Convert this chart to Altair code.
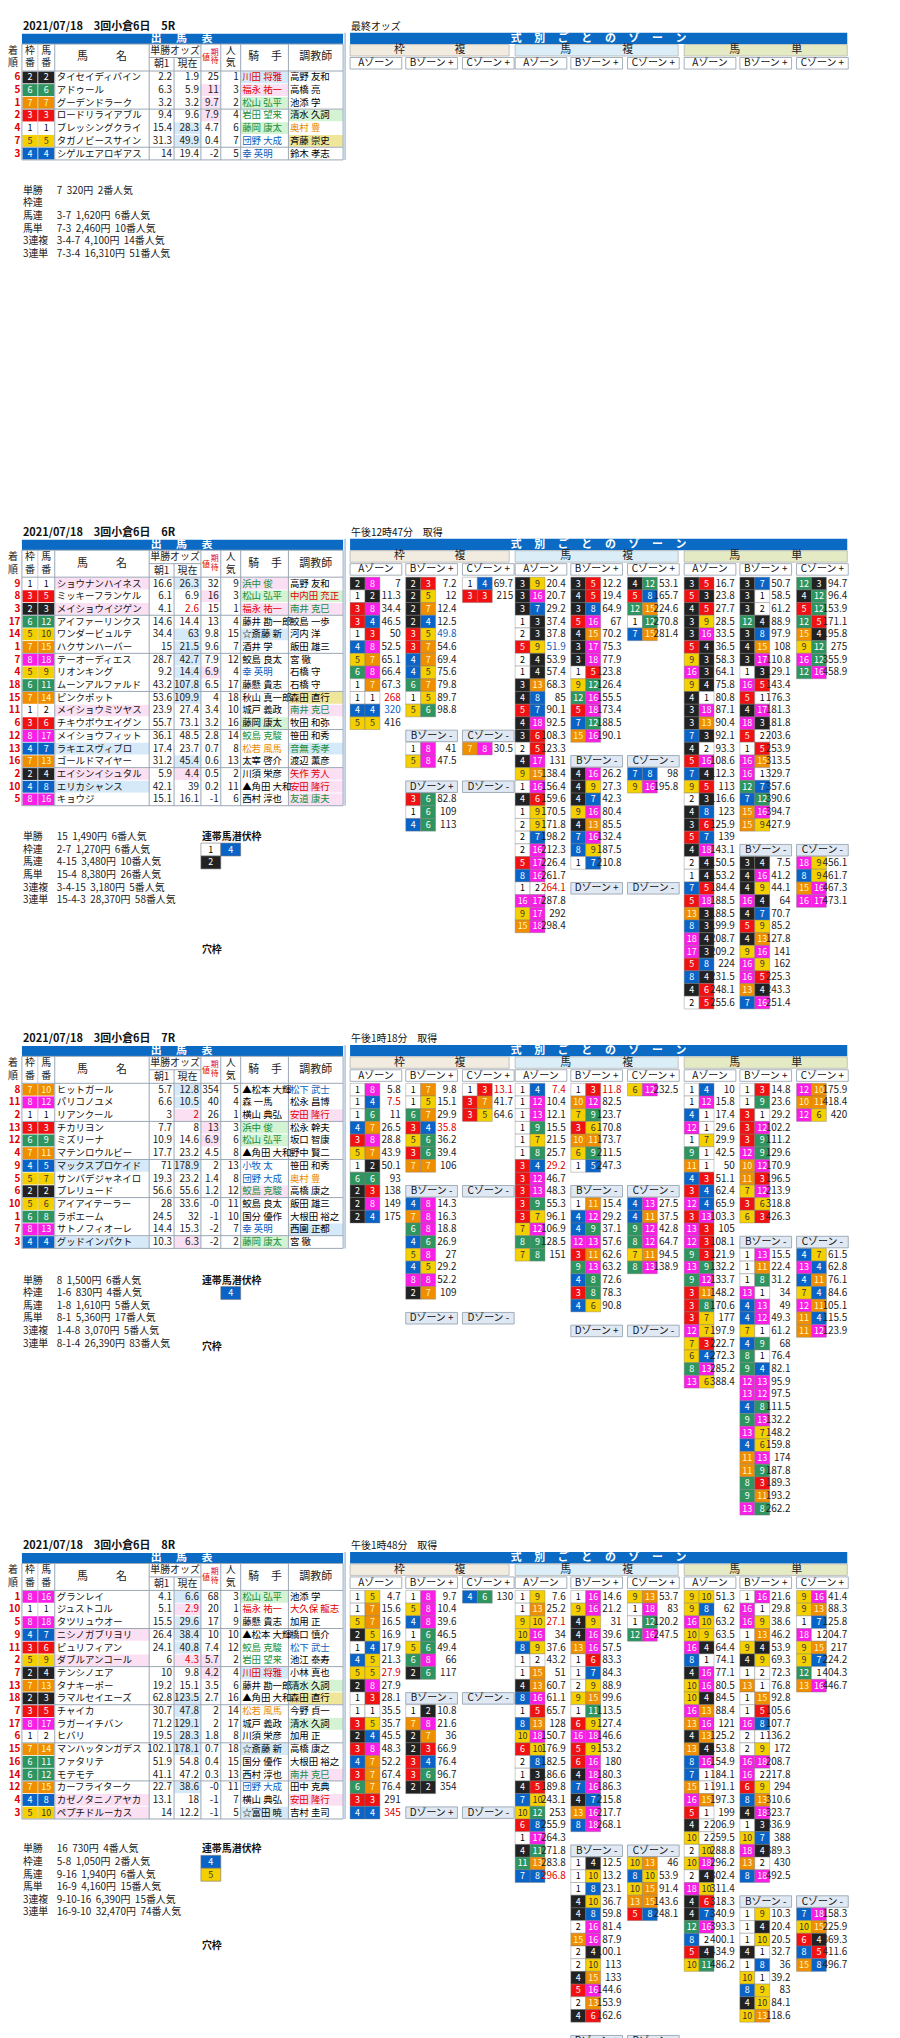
import altair as alt
import pandas as pd

FONT = "Noto Sans CJK JP"

# ---------------- data ----------------
DATE_TEXT = "2021/07/18"
MEETING = "3回小倉6日"
RACE_IDS = [5, 6, 7, 8]
ODDS_TIME = {5: "最終オッズ", 6: "午後12時47分　取得", 7: "午後1時18分　取得", 8: "午後1時48分　取得"}

# (着順, 枠番, 馬番, 馬名, 朝1, 現在, 期待値, 人気, 騎手, 調教師)
RUNNERS_5 = [
    (6, 2, 2, "タイセイディバイン", 2.2, 1.9, "25", 1, "川田 将雅", "高野 友和"),
    (5, 6, 6, "アドゥール", 6.3, 5.9, "11", 3, "福永 祐一", "高橋 亮"),
    (1, 7, 7, "グーデンドラーク", 3.2, 3.2, "9.7", 2, "松山 弘平", "池添 学"),
    (2, 3, 3, "ロードリライアブル", 9.4, 9.6, "7.9", 4, "岩田 望来", "清水 久詞"),
    (4, 1, 1, "ブレッシングクライ", 15.4, 28.3, "4.7", 6, "藤岡 康太", "奥村 豊"),
    (7, 5, 5, "タガノビースサイン", 31.3, 49.9, "0.4", 7, "団野 大成", "斉藤 崇史"),
    (3, 4, 4, "シゲルエアロギアス", 14, 19.4, "-2", 5, "幸 英明", "鈴木 孝志"),
]
RUNNERS_6 = [
    (9, 1, 1, "ショウナンハイネス", 16.6, 26.3, "32", 9, "浜中 俊", "高野 友和"),
    (8, 3, 5, "ミッキーフランケル", 6.1, 6.9, "16", 3, "松山 弘平", "中内田 充正"),
    (3, 2, 3, "メイショウイジゲン", 4.1, 2.6, "15", 1, "福永 祐一", "南井 克巳"),
    (17, 6, 12, "アイファーリンクス", 14.6, 14.4, "13", 4, "藤井 勘一郎", "鮫島 一歩"),
    (14, 5, 10, "ワンダービュルテ", 34.4, 63, "9.8", 15, "☆斎藤 新", "河内 洋"),
    (1, 7, 15, "ハクサンハーバー", 15, 21.5, "9.6", 7, "酒井 学", "飯田 雄三"),
    (7, 8, 18, "テーオーディエス", 28.7, 42.7, "7.9", 12, "鮫島 良太", "宮 徹"),
    (4, 5, 9, "リオンキング", 9.2, 14.4, "6.9", 4, "幸 英明", "石橋 守"),
    (18, 6, 11, "ムーンアルファルド", 43.2, 107.8, "6.5", 17, "藤懸 貴志", "石橋 守"),
    (15, 7, 14, "ピンクポット", 53.6, 109.9, "4", 18, "秋山 真一郎", "森田 直行"),
    (11, 1, 2, "メイショウミツヤス", 23.9, 27.4, "3.4", 10, "城戸 義政", "南井 克巳"),
    (6, 3, 6, "チキウボウエイグン", 55.7, 73.1, "3.2", 16, "藤岡 康太", "牧田 和弥"),
    (12, 8, 17, "メイショウフィット", 36.1, 48.5, "2.8", 14, "鮫島 克駿", "笹田 和秀"),
    (13, 4, 7, "ラキエスヴィブロ", 17.4, 23.7, "0.7", 8, "松若 風馬", "音無 秀孝"),
    (16, 7, 13, "ゴールドマイヤー", 31.2, 45.4, "0.6", 13, "太宰 啓介", "渡辺 薫彦"),
    (2, 2, 4, "エイシンイシュタル", 5.9, 4.4, "0.5", 2, "川須 栄彦", "矢作 芳人"),
    (10, 4, 8, "エリカシャンス", 42.1, 39, "0.2", 11, "▲角田 大和", "安田 隆行"),
    (5, 8, 16, "キョウジ", 15.1, 16.1, "-1", 6, "西村 淳也", "友道 康夫"),
]
RUNNERS_7 = [
    (8, 7, 10, "ヒットガール", 5.7, 12.8, "354", 5, "▲松本 大輝", "松下 武士"),
    (11, 8, 12, "パリコノユメ", 6.6, 10.5, "40", 4, "森 一馬", "松永 昌博"),
    (2, 1, 1, "リアンクール", 3, 2, "26", 1, "横山 典弘", "安田 隆行"),
    (13, 3, 3, "チカリヨン", 7.7, 8, "13", 3, "浜中 俊", "松永 幹夫"),
    (12, 6, 9, "ミズリーナ", 10.9, 14.6, "6.9", 6, "松山 弘平", "坂口 智康"),
    (4, 7, 11, "マテンロウルビー", 17.7, 23.2, "4.5", 8, "▲角田 大和", "野中 賢二"),
    (9, 4, 5, "マックスプロケイド", 71, 178.9, "2", 13, "小牧 太", "笹田 和秀"),
    (5, 5, 7, "サンバデジャネイロ", 19.3, 23.2, "1.4", 8, "団野 大成", "奥村 豊"),
    (6, 2, 2, "プレリュード", 56.6, 55.6, "1.2", 12, "鮫島 克駿", "高橋 康之"),
    (10, 5, 6, "アイアイテーラー", 28, 33.6, "-0", 11, "鮫島 良太", "飯田 雄三"),
    (1, 6, 8, "ラポエーム", 24.5, 32, "-1", 10, "国分 優作", "大根田 裕之"),
    (7, 8, 13, "サトノフィオーレ", 14.4, 15.3, "-2", 7, "幸 英明", "西園 正都"),
    (3, 4, 4, "グッドインパクト", 10.3, 6.3, "-2", 2, "藤岡 康太", "宮 徹"),
]
RUNNERS_8 = [
    (1, 8, 16, "グランレイ", 4.1, 6.6, "68", 3, "松山 弘平", "池添 学"),
    (10, 1, 1, "ジュストコル", 5.1, 2.9, "20", 1, "福永 祐一", "大久保 龍志"),
    (5, 8, 18, "タツリュウオー", 15.5, 29.6, "17", 9, "藤懸 貴志", "加用 正"),
    (9, 4, 7, "ニシノガブリヨリ", 26.4, 38.4, "10", 10, "▲松本 大輝", "橋口 慎介"),
    (11, 3, 6, "ピュリフィアン", 24.1, 40.8, "7.4", 12, "鮫島 克駿", "松下 武士"),
    (2, 5, 9, "ダブルアンコール", 6, 4.3, "5.7", 2, "岩田 望来", "池江 泰寿"),
    (7, 2, 4, "テンシノエア", 10, 9.8, "4.2", 4, "川田 将雅", "小林 真也"),
    (13, 7, 13, "タナキーポー", 19.2, 15.1, "3.5", 6, "藤井 勘一郎", "清水 久詞"),
    (18, 2, 3, "ラマルセイエーズ", 62.8, 123.5, "2.7", 16, "▲角田 大和", "森田 直行"),
    (7, 3, 5, "チャイカ", 30.7, 47.8, "2", 14, "松若 風馬", "今野 貞一"),
    (17, 8, 17, "ラガーイチバン", 71.2, 129.1, "2", 17, "城戸 義政", "清水 久詞"),
    (6, 1, 2, "ヒバリ", 19.5, 28.3, "1.8", 8, "川須 栄彦", "加用 正"),
    (15, 7, 14, "マンハッタンガデス", 102.1, 178.1, "0.7", 18, "☆斎藤 新", "高橋 康之"),
    (16, 6, 11, "ファタリテ", 51.9, 54.8, "0.4", 15, "国分 優作", "大根田 裕之"),
    (14, 6, 12, "モテモテ", 41.1, 47.2, "0.3", 13, "西村 淳也", "南井 克巳"),
    (12, 7, 15, "カーフライターク", 22.7, 38.6, "-0", 11, "団野 大成", "田中 克典"),
    (4, 4, 8, "カゼノタニノアヤカ", 13.1, 18, "-1", 7, "横山 典弘", "安田 隆行"),
    (3, 5, 10, "ペプチドルーカス", 14, 12.2, "-1", 5, "☆富田 暁", "吉村 圭司"),
]
RUNNERS = {5: RUNNERS_5, 6: RUNNERS_6, 7: RUNNERS_7, 8: RUNNERS_8}

PAYOUT = {
    5: [("単勝", "7  320円  2番人気"), ("枠連", ""), ("馬連", "3-7  1,620円  6番人気"),
        ("馬単", "7-3  2,460円  10番人気"), ("3連複", "3-4-7  4,100円  14番人気"),
        ("3連単", "7-3-4  16,310円  51番人気")],
    6: [("単勝", "15  1,490円  6番人気"), ("枠連", "2-7  1,270円  6番人気"), ("馬連", "4-15  3,480円  10番人気"),
        ("馬単", "15-4  8,380円  26番人気"), ("3連複", "3-4-15  3,180円  5番人気"),
        ("3連単", "15-4-3  28,370円  58番人気")],
    7: [("単勝", "8  1,500円  6番人気"), ("枠連", "1-6  830円  4番人気"), ("馬連", "1-8  1,610円  5番人気"),
        ("馬単", "8-1  5,360円  17番人気"), ("3連複", "1-4-8  3,070円  5番人気"),
        ("3連単", "8-1-4  26,390円  83番人気")],
    8: [("単勝", "16  730円  4番人気"), ("枠連", "5-8  1,050円  2番人気"), ("馬連", "9-16  1,940円  6番人気"),
        ("馬単", "16-9  4,160円  15番人気"), ("3連複", "9-10-16  6,390円  15番人気"),
        ("3連単", "16-9-10  32,470円  74番人気")],
}
LATENT = {6: [[1, 4], [2]], 7: [[None, 4]], 8: [[4], [5]]}

ZONE_6 = {
    "wf": {"A": [(2, 8, 7), (1, 2, 11.3), (3, 8, 34.4), (3, 4, 46.5), (1, 3, 50), (4, 8, 52.5), (5, 7, 65.1),
                 (6, 8, 66.4), (1, 7, 67.3), (1, 1, 268), (4, 4, 320), (5, 5, 416)],
           "B+": [(2, 3, 7.2), (2, 5, 12), (2, 7, 12.4), (2, 4, 12.5), (3, 5, 49.8), (3, 7, 54.6), (4, 7, 69.4),
                  (4, 5, 75.6), (6, 7, 79.8), (1, 5, 89.7), (5, 6, 98.8)],
           "C+": [(1, 4, 69.7), (3, 3, 215)],
           "B-": [(1, 8, 41), (5, 8, 47.5)],
           "C-": [(7, 8, 30.5)],
           "D+": [(3, 6, 82.8), (1, 6, 109), (4, 6, 113)], "D-": []},
    "uf": {"A": [(3, 9, 20.4), (3, 16, 20.7), (3, 7, 29.2), (1, 3, 37.4), (2, 3, 37.8), (5, 9, 51.9), (2, 4, 53.9),
                 (1, 4, 57.4), (3, 13, 68.3), (4, 8, 85), (5, 7, 90.1), (4, 18, 92.5), (3, 6, 108.3), (2, 5, 123.3),
                 (4, 17, 131), (9, 15, 138.4), (1, 16, 156.4), (4, 6, 159.6), (1, 9, 170.5), (2, 9, 171.8),
                 (2, 7, 198.2), (2, 16, 212.3), (5, 17, 226.4), (8, 16, 261.7), (1, 2, 264.1), (16, 17, 287.8),
                 (9, 17, 292), (15, 18, 298.4)],
           "B+": [(3, 5, 12.2), (4, 5, 19.4), (3, 8, 64.9), (5, 16, 67), (4, 15, 70.2), (3, 17, 75.3), (3, 18, 77.9),
                  (1, 5, 123.8), (9, 12, 126.4), (12, 16, 155.5), (5, 18, 173.4), (7, 12, 188.5), (15, 16, 190.1)],
           "C+": [(4, 12, 53.1), (5, 8, 165.7), (12, 15, 224.6), (1, 12, 270.8), (7, 15, 281.4)],
           "B-": [(4, 16, 26.2), (4, 9, 27.3), (4, 7, 42.3), (9, 16, 80.4), (4, 13, 85.5), (7, 16, 132.4),
                  (8, 9, 187.5), (1, 7, 210.8)],
           "C-": [(7, 8, 98), (9, 16, 195.8)], "D+": [], "D-": []},
    "ut": {"A": [(3, 5, 16.7), (5, 3, 23.8), (4, 5, 27.7), (3, 9, 28.5), (3, 16, 33.5), (5, 4, 36.5), (9, 3, 58.3),
                 (16, 3, 64.1), (9, 4, 75.8), (4, 1, 80.8), (3, 18, 87.1), (3, 13, 90.4), (7, 3, 92.1), (4, 2, 93.3),
                 (5, 16, 108.6), (7, 4, 112.3), (9, 5, 113), (2, 3, 116.6), (4, 8, 123), (3, 6, 125.9), (5, 7, 139),
                 (4, 18, 143.1), (2, 4, 150.5), (1, 4, 153.2), (7, 5, 184.4), (5, 18, 188.5), (13, 3, 188.5),
                 (8, 3, 199.9), (18, 4, 208.7), (17, 3, 209.2), (5, 8, 224), (8, 4, 231.5), (4, 6, 248.1),
                 (2, 5, 255.6)],
           "B+": [(3, 7, 50.7), (3, 1, 58.5), (3, 2, 61.2), (12, 4, 88.9), (3, 8, 97.9), (4, 15, 108), (3, 17, 110.8),
                  (1, 3, 129.1), (16, 5, 143.4), (5, 1, 176.3), (4, 17, 181.3), (18, 3, 181.8), (5, 2, 203.6),
                  (1, 5, 253.9), (16, 15, 313.5), (16, 1, 329.7), (12, 7, 357.6), (7, 12, 390.6), (15, 16, 394.7),
                  (15, 9, 427.9)],
           "C+": [(12, 3, 94.7), (4, 12, 96.4), (5, 12, 153.9), (12, 5, 171.1), (15, 4, 195.8), (9, 12, 275),
                  (16, 12, 355.9), (12, 16, 458.9)],
           "B-": [(3, 4, 7.5), (4, 16, 41.2), (4, 9, 44.1), (16, 4, 64), (4, 7, 70.7), (5, 9, 85.2), (4, 13, 127.8),
                  (9, 16, 141), (16, 9, 162), (16, 5, 225.3), (13, 4, 243.3), (7, 16, 251.4)],
           "C-": [(18, 9, 456.1), (8, 9, 461.7), (15, 16, 467.3), (16, 17, 473.1)], "D+": [], "D-": []},
}
ZONE_7 = {
    "wf": {"A": [(1, 8, 5.8), (1, 4, 7.5), (1, 6, 11), (4, 7, 26.5), (3, 8, 28.8), (5, 7, 43.9), (1, 2, 50.1),
                 (6, 6, 93), (2, 3, 138), (2, 8, 149), (2, 4, 175)],
           "B+": [(1, 7, 9.8), (1, 5, 15.1), (6, 7, 29.9), (3, 4, 35.8), (5, 6, 36.2), (3, 6, 39.4), (7, 7, 106)],
           "C+": [(1, 3, 13.1), (3, 7, 41.7), (3, 5, 64.6)],
           "B-": [(4, 8, 14.3), (7, 8, 16.3), (6, 8, 18.8), (4, 6, 26.9), (5, 8, 27), (4, 5, 29.2), (8, 8, 52.2),
                  (2, 7, 109)],
           "C-": [], "D+": [], "D-": []},
    "uf": {"A": [(1, 4, 7.4), (1, 12, 10.4), (1, 13, 12.1), (1, 9, 15.5), (1, 7, 21.5), (1, 8, 25.7), (3, 4, 29.2),
                 (3, 12, 46.7), (3, 13, 48.3), (3, 9, 55.3), (3, 7, 96.1), (7, 12, 106.9), (8, 9, 128.5),
                 (7, 8, 151)],
           "B+": [(1, 3, 11.8), (10, 12, 82.5), (7, 9, 123.7), (3, 6, 170.8), (10, 11, 173.7), (6, 9, 211.5),
                  (1, 5, 247.3)],
           "C+": [(6, 12, 232.5)],
           "B-": [(1, 11, 15.4), (4, 12, 29.2), (4, 9, 37.1), (12, 13, 57.6), (3, 11, 62.6), (9, 13, 63.2),
                  (4, 8, 72.6), (3, 8, 78.3), (4, 6, 90.8)],
           "C-": [(4, 13, 27.5), (4, 11, 37.5), (9, 12, 42.8), (8, 12, 64.7), (7, 11, 94.5), (8, 13, 138.9)],
           "D+": [], "D-": []},
    "ut": {"A": [(1, 4, 10), (1, 12, 15.8), (4, 1, 17.4), (12, 1, 29.6), (1, 7, 29.9), (9, 1, 42.5), (11, 1, 50),
                 (4, 3, 51.1), (3, 4, 62.4), (12, 4, 65.9), (3, 13, 103.3), (13, 3, 105), (12, 3, 108.1),
                 (9, 3, 121.9), (13, 9, 132.2), (9, 12, 133.7), (3, 11, 148.2), (3, 8, 170.6), (3, 7, 177),
                 (12, 7, 197.9), (7, 3, 222.7), (6, 4, 272.3), (8, 13, 285.2), (13, 6, 388.4)],
           "B+": [(1, 3, 14.8), (1, 9, 23.6), (3, 1, 29.2), (3, 12, 102.2), (3, 9, 111.2), (12, 9, 129.6),
                  (10, 12, 170.9), (11, 3, 196.5), (7, 12, 213.9), (3, 6, 318.8), (6, 3, 426.3)],
           "C+": [(12, 10, 175.9), (10, 11, 418.4), (12, 6, 420)],
           "B-": [(1, 13, 15.5), (1, 11, 22.4), (1, 8, 31.2), (13, 1, 34), (4, 13, 49), (4, 12, 49.3), (7, 1, 61.2),
                  (4, 9, 68), (8, 1, 76.4), (9, 4, 82.1), (12, 13, 95.9), (13, 12, 97.5), (4, 8, 111.5),
                  (9, 13, 132.2), (13, 7, 148.2), (4, 6, 159.8), (11, 13, 174), (11, 9, 187.8), (8, 3, 189.3),
                  (9, 11, 193.2), (13, 8, 262.2)],
           "C-": [(4, 7, 61.5), (13, 4, 62.8), (4, 11, 76.1), (7, 4, 84.6), (12, 11, 105.1), (11, 4, 115.5),
                  (11, 12, 123.9)], "D+": [], "D-": []},
}
ZONE_8 = {
    "wf": {"A": [(1, 5, 4.7), (1, 7, 15.6), (5, 7, 16.5), (2, 5, 16.9), (1, 4, 17.9), (4, 5, 21.3), (5, 5, 27.9),
                 (2, 8, 27.9), (1, 3, 28.1), (1, 1, 35.5), (3, 5, 35.7), (2, 4, 45.5), (3, 8, 48.3), (4, 7, 52.2),
                 (3, 7, 67.4), (6, 7, 76.4), (3, 3, 291), (4, 4, 345)],
           "B+": [(1, 8, 9.7), (5, 8, 10.4), (4, 8, 39.6), (1, 6, 46.5), (5, 6, 49.4), (6, 8, 66), (2, 6, 117)],
           "C+": [(4, 6, 130)],
           "B-": [(1, 2, 10.8), (7, 8, 21.6), (2, 7, 36), (2, 3, 66.9), (3, 4, 76.4), (3, 6, 96.7), (2, 2, 354)],
           "C-": [], "D+": [], "D-": []},
    "uf": {"A": [(1, 9, 7.6), (1, 13, 25.2), (9, 10, 27.1), (10, 16, 34), (8, 9, 37.6), (1, 2, 43.2), (1, 15, 51),
                 (4, 13, 60.7), (8, 16, 61.1), (1, 5, 65.7), (8, 13, 128), (10, 18, 150.7), (6, 10, 176.9),
                 (2, 8, 182.5), (1, 3, 186.6), (4, 5, 189.8), (7, 10, 243.1), (10, 12, 253), (6, 8, 255.9),
                 (1, 17, 264.3), (4, 11, 271.8), (11, 13, 283.8), (7, 8, 296.8)],
           "B+": [(1, 16, 14.6), (9, 16, 21.2), (4, 9, 31), (4, 16, 39.6), (13, 16, 57.5), (1, 6, 83.3), (1, 7, 84.3),
                  (2, 9, 88.9), (9, 15, 99.6), (1, 11, 113.5), (6, 9, 127.4), (16, 18, 146.6), (5, 9, 153.2),
                  (6, 16, 180), (4, 18, 180.3), (7, 16, 186.3), (4, 7, 215.8), (13, 16, 217.7), (8, 18, 268.1)],
           "C+": [(9, 13, 53.7), (1, 18, 83), (1, 12, 120.2), (12, 16, 247.5)],
           "B-": [(1, 4, 12.5), (1, 10, 13.2), (1, 8, 23.1), (4, 10, 36.7), (4, 8, 59.8), (2, 16, 81.4),
                  (15, 16, 87.9), (2, 4, 100.1), (2, 10, 113), (4, 15, 133), (5, 16, 144.6), (2, 13, 153.9),
                  (4, 6, 162.6)],
           "C-": [(10, 13, 46), (8, 10, 53.9), (10, 15, 91.4), (13, 15, 143.6), (5, 8, 248.1)], "D+": [], "D-": []},
    "ut": {"A": [(9, 10, 51.3), (9, 8, 62), (16, 10, 63.2), (10, 9, 63.5), (16, 4, 64.4), (8, 1, 74.1),
                 (4, 16, 77.1), (10, 16, 80.5), (10, 4, 84.5), (16, 13, 88.4), (13, 16, 121), (4, 13, 125.2),
                 (13, 4, 153.8), (8, 16, 154.9), (7, 1, 184.1), (15, 1, 191.1), (16, 15, 197.3), (5, 1, 199),
                 (4, 2, 206.9), (10, 2, 259.5), (2, 10, 288.8), (10, 18, 296.2), (2, 4, 302.4), (18, 10, 311.4),
                 (4, 6, 318.3), (4, 7, 340.9), (12, 16, 393.3), (8, 2, 400.1), (5, 4, 434.9), (10, 11, 486.2)],
           "B+": [(1, 16, 21.6), (16, 1, 29.8), (16, 9, 38.6), (1, 13, 46.2), (9, 4, 53.9), (4, 9, 69.3), (1, 2, 72.3),
                  (13, 1, 76.8), (1, 15, 92.8), (1, 5, 105.6), (16, 8, 107.7), (2, 1, 136.2), (2, 9, 172),
                  (16, 18, 208.7), (16, 2, 217.8), (6, 9, 294), (8, 13, 310.6), (4, 18, 323.7), (1, 3, 336.9),
                  (10, 7, 388), (18, 4, 389.3), (13, 2, 430), (8, 18, 492.5)],
           "C+": [(9, 16, 41.4), (9, 13, 88.3), (1, 7, 125.8), (18, 1, 204.7), (9, 15, 217), (9, 7, 224.2),
                  (12, 1, 404.3), (13, 16, 446.7)],
           "B-": [(1, 9, 10.3), (1, 4, 20.4), (1, 10, 20.5), (4, 1, 32.7), (1, 8, 36), (10, 1, 39.2), (8, 9, 83),
                  (4, 10, 84.1), (10, 13, 118.6)],
           "C-": [(7, 18, 158.3), (10, 15, 225.9), (6, 4, 369.3), (8, 5, 411.6), (15, 8, 496.7)], "D+": [], "D-": []},
}
ZONES = {6: ZONE_6, 7: ZONE_7, 8: ZONE_8}

# ---------------- styles (kept apart from the values) ----------------
ROW_STYLE = {
    5: ["j=r jb=b", "e=p j=r jb=p", "e=p j=g jb=g", "e=p j=g tb=g", "c=b j=g jb=g t=o", "c=b j=b tb=y", "j=b"],
    6: ["n=p c=b j=g jb=p", "e=p j=g jb=g t=r tb=g", "n=p cr=r j=r jb=p t=g tb=p", "", "c=b jb=b", "c=b",
        "c=b", "c=b e=p j=b", "c=b", "c=b tb=y", "n=p t=g tb=p", "jb=g", "j=g", "n=b j=o t=g tb=b", "c=b",
        "n=p c=p t=r tb=p", "n=b t=r tb=p", "t=g tb=p"],
    7: ["c=b t=b", "c=b", "c=p cr=r t=r tb=p", "e=p j=g jb=g", "e=p j=g jb=g", "", "n=b c=b j=b", "j=b t=o",
        "j=g jb=p", "", "", "j=b tb=b", "n=b c=p j=g jb=g"],
    8: ["c=b j=g jb=g", "c=p cr=r j=r t=r", "c=b", "n=p c=b", "c=b j=g t=b", "n=p c=p cr=r e=p j=g",
        "e=p j=r jb=b", "tb=g", "c=b tb=y", "c=b j=o", "c=b tb=g", "c=b", "c=b jb=b", "", "t=g tb=p",
        "c=b j=b", "n=p t=r tb=p", "n=p jb=b"],
}
ZONE_HL = {
    (6, "wf", "A"): {9: "r", 10: "b"}, (6, "wf", "B+"): {4: "b"}, (6, "uf", "A"): {5: "b", 24: "r"},
    (7, "wf", "A"): {1: "r"}, (7, "wf", "B+"): {3: "r"}, (7, "wf", "C+"): {0: "r"},
    (7, "uf", "A"): {0: "r", 6: "r"}, (7, "uf", "B+"): {0: "r"},
    (8, "wf", "A"): {6: "r", 17: "r"}, (8, "uf", "A"): {2: "r", 22: "r"},
}

BLUE = "#0b6bc4"
WAKU_FILL = {1: "#ffffff", 2: "#222222", 3: "#f01212", 4: "#0a64c8", 5: "#f5d000", 6: "#2f9560",
             7: "#ef8f00", 8: "#fa1ee6"}
WAKU_TEXT = {1: "#000000", 2: "#ffffff", 3: "#ffffff", 4: "#ffffff", 5: "#333333", 6: "#ffffff",
             7: "#fff6c0", 8: "#ffffff"}
BG = {"p": "#fbdff3", "b": "#d5e9f8", "g": "#d3f3d3", "y": "#efe69a"}
FG = {"r": "#e00000", "g": "#138f40", "b": "#0d5fc0", "o": "#e88a00", "k": "#000000"}
SUBBG = ["#f2ece0", "#dbeef8", "#e4ebc4"]

# ---------------- layout ----------------
W, H = 884, 2022
TOP = {5: 21, 6: 530, 7: 1039, 8: 1549}
PAY_Y = {5: 186, 6: 836, 7: 1282, 8: 1854}
ANA_Y = {6: 950, 7: 1349, 8: 1951}
RH = 12.77
COLX = [17, 33, 50, 145, 170, 197, 217, 237, 285, 340]
GX = [347, 513, 683]
GW = [160, 164, 164]
CX = [0, 56, 113]
CW = 52
KINDS = ["wf", "uf", "ut"]
SUBLABEL = [("枠", "複"), ("馬", "複"), ("馬", "単")]
NBSP = "\u00a0"

rects, rules, texts = [], [], []


def R(x, x2, y, y2, fill, stroke="#000000", sw=0.0):
    rects.append(dict(x=x, x2=x2, y=y, y2=y2, fill=fill, stroke=stroke, sw=sw))


def L(x, x2, y, y2, color="#9aa6b4", sw=1.0):
    rules.append(dict(x=x, x2=x2, y=y, y2=y2, color=color, sw=sw))


def T(x, y, s, color="#000000", size=10, align="left", weight="normal"):
    texts.append(dict(x=x, y=y, text=str(s).replace(" ", NBSP), color=color, size=size, align=align,
                      weight=weight))


def fmt(v):
    return str(v)


def parse_style(s):
    d = {}
    for part in s.split():
        k, v = part.split("=")
        d[k] = v
    return d


def button(x, yc, label, fill):
    R(x, x + CW, yc - 5.8, yc + 5.8, fill, "#8f9cab", 0.8)
    T(x + CW / 2, yc, label, "#111111", 10, "center")


for r in RACE_IDS:
    D = TOP[r]
    rows = RUNNERS[r]
    waku_of = {u: w for (_, w, u, *_rest) in rows}
    n = len(rows)
    hb = D + 44.6
    bottom = hb + n * RH

    # ----- left table -----
    T(18, D, f"{DATE_TEXT}　{MEETING}　{r}R", "#111111", 11, "left", "bold")
    R(17, 340, D + 7, D + 17.5, BLUE)
    for k, ch in enumerate("出馬表"):
        T(152 + k * 25.5, D + 12.3, ch, "#ffffff", 11, "center", "bold")
    R(17, 340, D + 17.5, hb, "#ffffff")
    for (x, ch1, ch2) in [(8, "着", "順"), (25, "枠", "番"), (41.5, "馬", "番"), (227, "人", "気")]:
        T(x, D + 24.5, ch1, "#222222", 10, "center")
        T(x, D + 37, ch2, "#222222", 10, "center")
    T(78, D + 31, "馬", "#222222", 11, "center")
    T(117, D + 31, "名", "#222222", 11, "center")
    T(171, D + 24, "単勝オッズ", "#222222", 10, "center")
    T(157.5, D + 38, "朝1", "#222222", 10, "center")
    T(183.5, D + 38, "現在", "#222222", 10, "center")
    T(202, D + 32, "値", "#e00000", 8, "center")
    T(211, D + 26, "期", "#e00000", 8, "center")
    T(211, D + 35, "待", "#e00000", 8, "center")
    T(250, D + 31, "騎", "#222222", 11, "center")
    T(273, D + 31, "手", "#222222", 11, "center")
    T(312.5, D + 31, "調教師", "#222222", 11, "center")

    styles = ROW_STYLE[r]
    for i, (fin, w, u, name, o1, onow, ev, pop, jockey, trainer) in enumerate(rows):
        st = parse_style(styles[i])
        yc = D + 51 + i * RH
        top, bot = yc - RH / 2, yc + RH / 2
        T(15.5, yc, fin, "#e00000", 10, "right", "bold")
        R(17.5, 33, top + 0.4, bot - 0.4, WAKU_FILL[w])
        R(33, 49.5, top + 0.4, bot - 0.4, WAKU_FILL[w])
        T(25.2, yc, w, WAKU_TEXT[w], 9, "center")
        T(41.5, yc, u, WAKU_TEXT[w], 9, "center")
        if "n" in st:
            R(50, 145, top + 0.5, bot - 0.5, BG[st["n"]])
        if "c" in st:
            R(170, 197, top + 0.5, bot - 0.5, BG[st["c"]])
        if "e" in st:
            R(197, 217, top + 0.5, bot - 0.5, BG[st["e"]])
        if "jb" in st:
            R(237, 285, top + 0.5, bot - 0.5, BG[st["jb"]])
        if "tb" in st:
            R(285, 340, top + 0.5, bot - 0.5, BG[st["tb"]])
        T(52, yc, name, "#111111", 9.5, "left")
        T(168, yc, fmt(o1), "#222222", 10, "right")
        T(195, yc, fmt(onow), FG[st["cr"]] if "cr" in st else "#222222", 10, "right")
        T(215, yc, ev, "#222222", 10, "right")
        T(235, yc, pop, "#222222", 10, "right")
        T(238.5, yc, jockey, FG[st.get("j", "k")], 9.5, "left")
        T(286.5, yc, trainer, FG[st.get("t", "k")], 9.5, "left")

    # table lines
    for x in COLX:
        y0 = D + 31 if x == 170 else D + 17.5
        L(x, x, y0, bottom, "#c9ced6" if x == 33 else "#9aa6b4", 1)
    L(17, 340, D + 17.5, D + 17.5)
    L(145, 197, D + 31, D + 31)
    L(17, 340, hb, hb)
    for i in range(3, n, 3):
        L(17, 340, hb + i * RH, hb + i * RH)
    L(17, 340, bottom, bottom)
    L(342, 342, D + 6, bottom, "#a9c3e0", 1.5)

    # payouts
    for k, (lab, content) in enumerate(PAYOUT[r]):
        T(18, PAY_Y[r] + k * 12.7, lab, "#222222", 10, "left")
        T(52, PAY_Y[r] + k * 12.7, content, "#222222", 10, "left")
    if r in LATENT:
        T(198, PAY_Y[r], "連帯馬潜伏枠", "#111111", 10, "left", "bold")
        for rr, line in enumerate(LATENT[r]):
            for cc, w in enumerate(line):
                if w is None:
                    continue
                x0 = 197 + cc * 20
                y0 = PAY_Y[r] + 6 + rr * 13
                R(x0, x0 + 20, y0, y0 + 13, WAKU_FILL[w], "#777777", 0.6)
                T(x0 + 10, y0 + 6.5, w, WAKU_TEXT[w], 9, "center")
        T(198, ANA_Y[r], "穴枠", "#111111", 10, "left", "bold")

    # ----- zone area -----
    T(348, D, ODDS_TIME[r], "#111111", 10, "left")
    R(347, 847, D + 6, D + 17.5, BLUE)
    for k, ch in enumerate("式別ごとのゾーン"):
        T(514 + k * 23.7, D + 12, ch, "#ffffff", 11, "center", "bold")
    for g in range(3):
        R(GX[g], GX[g] + GW[g], D + 18, D + 29.5, SUBBG[g], "#b5b5b5", 0.8)
        T(GX[g] + GW[g] * 0.31, D + 23.8, SUBLABEL[g][0], "#222222", 11, "center")
        T(GX[g] + GW[g] * 0.69, D + 23.8, SUBLABEL[g][1], "#222222", 11, "center")
        for c, lab in enumerate(["Aゾーン", "Bゾーン +", "Cゾーン +"]):
            button(GX[g] + CX[c], D + 36.8, lab, "#ffffff")

    if r not in ZONES:
        continue

    def zone_rows(kind, colx, slot0, data, hl):
        for k, (a, b, v) in enumerate(data):
            yc = D + 51 + (slot0 + k) * RH
            for j, h in enumerate((a, b)):
                w = h if kind == "wf" else waku_of[h]
                x0 = colx + j * 15
                R(x0, x0 + 15, yc - RH / 2, yc + RH / 2, WAKU_FILL[w], "#7a7a7a", 0.4)
                T(x0 + 7.5, yc, h, WAKU_TEXT[w], 9, "center")
            T(colx + 51, yc, fmt(v), FG[hl[k]] if k in hl else "#222222", 10, "right")

    for g, kind in enumerate(KINDS):
        z = ZONES[r][kind]
        base = GX[g]
        zone_rows(kind, base + CX[0], 0, z["A"], ZONE_HL.get((r, kind, "A"), {}))
        zone_rows(kind, base + CX[1], 0, z["B+"], ZONE_HL.get((r, kind, "B+"), {}))
        zone_rows(kind, base + CX[2], 0, z["C+"], ZONE_HL.get((r, kind, "C+"), {}))
        s2 = max(len(z["B+"]), len(z["C+"])) + 1
        button(base + CX[1], D + 51 + s2 * RH, "Bゾーン -", "#dfe8f3")
        button(base + CX[2], D + 51 + s2 * RH, "Cゾーン -", "#dfe8f3")
        zone_rows(kind, base + CX[1], s2 + 1, z["B-"], ZONE_HL.get((r, kind, "B-"), {}))
        zone_rows(kind, base + CX[2], s2 + 1, z["C-"], ZONE_HL.get((r, kind, "C-"), {}))
        if kind in ("wf", "uf"):
            s3 = s2 + 1 + max(len(z["B-"]), len(z["C-"]), 0) + 1
            button(base + CX[1], D + 51 + s3 * RH, "Dゾーン +", "#dfe8f3")
            button(base + CX[2], D + 51 + s3 * RH, "Dゾーン -", "#dfe8f3")
            zone_rows(kind, base + CX[1], s3 + 1, z["D+"], {})
            zone_rows(kind, base + CX[2], s3 + 1, z["D-"], {})

# ---------------- chart ----------------
XS = alt.Scale(domain=[8, 8 + W], nice=False, zero=False)
YS = alt.Scale(domain=[8, 8 + H], nice=False, zero=False, reverse=True)

rect_df = pd.DataFrame(rects)
rule_df = pd.DataFrame(rules)
text_df = pd.DataFrame(texts)

layers = [
    alt.Chart(rect_df).mark_rect().encode(
        x=alt.X("x:Q", scale=XS, axis=None), x2="x2:Q",
        y=alt.Y("y:Q", scale=YS, axis=None), y2="y2:Q",
        fill=alt.Fill("fill:N", scale=None),
        stroke=alt.Stroke("stroke:N", scale=None),
        strokeWidth=alt.StrokeWidth("sw:Q", scale=None),
    ),
    alt.Chart(rule_df).mark_rule().encode(
        x=alt.X("x:Q", scale=XS, axis=None), x2="x2:Q",
        y=alt.Y("y:Q", scale=YS, axis=None), y2="y2:Q",
        color=alt.Color("color:N", scale=None),
        strokeWidth=alt.StrokeWidth("sw:Q", scale=None),
    ),
]
for align in ["left", "center", "right"]:
    for weight in ["normal", "bold"]:
        sub = text_df[(text_df["align"] == align) & (text_df["weight"] == weight)]
        if len(sub) == 0:
            continue
        layers.append(
            alt.Chart(sub).mark_text(align=align, baseline="middle", font=FONT, fontWeight=weight).encode(
                x=alt.X("x:Q", scale=XS, axis=None),
                y=alt.Y("y:Q", scale=YS, axis=None),
                text="text:N",
                color=alt.Color("color:N", scale=None),
                size=alt.Size("size:Q", scale=None),
            )
        )

chart = alt.layer(*layers).properties(width=W, height=H, padding=0, background="white").configure_view(
    strokeWidth=0
)
chart.save("out.html", embed_options={"renderer": "svg", "actions": False})
